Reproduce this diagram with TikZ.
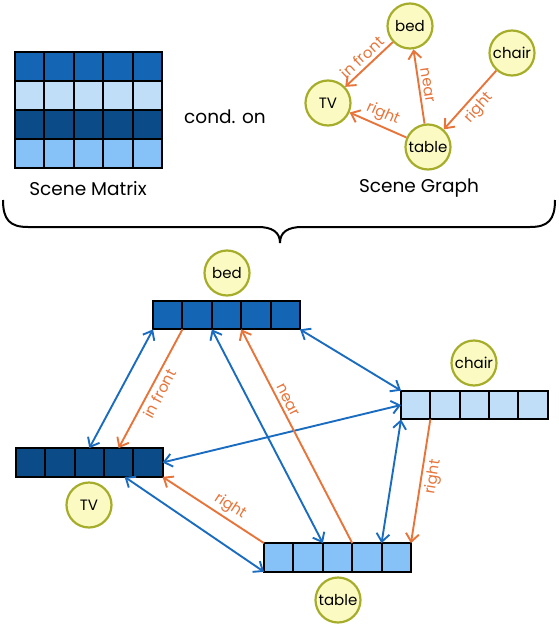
\documentclass[tikz,border=0pt]{standalone}
\usepackage{fontspec}
\setmainfont{Poppins}
\usetikzlibrary{arrows.meta}
\definecolor{midblue}{HTML}{1465B4}
\definecolor{paleblue}{HTML}{C0DEF8}
\definecolor{darkblue}{HTML}{0B4C88}
\definecolor{skyblue}{HTML}{86C2F8}
\definecolor{linkblue}{HTML}{1A6CC0}
\definecolor{relorange}{HTML}{E8743A}
\definecolor{objfill}{HTML}{FAFAC2}
\definecolor{objline}{HTML}{A6AD2B}
\begin{document}
\begin{tikzpicture}[x=1pt,y=-1pt,>={Straight Barb[length=8pt,width=13pt]},
	cell/.style={draw=black,line width=2pt,minimum width=29.3pt,minimum height=28.7pt,inner sep=0pt,outer sep=0pt},
	obj/.style={circle,draw=objline,fill=objfill,line width=2.2pt,minimum size=45pt,inner sep=0pt,font=\fontsize{15}{17}\selectfont},
	link/.style={linkblue,line width=1.9pt,<->},
	rel/.style={relorange,line width=1.9pt,->},
	rellabel/.style={sloped,font=\fontsize{15}{17}\selectfont,text=relorange,inner sep=3.5pt},
	caption/.style={font=\fontsize{18.5}{21}\selectfont}]
	\useasboundingbox (0,0) rectangle (558,626);
	\foreach \r/\c in {1/midblue,2/paleblue,3/darkblue,4/skyblue}
		\foreach \i in {1,...,5}
			\node[cell,fill=\c,minimum height=29pt] (m\r\i) at ({0.3+29.4*\i},{37.5+29*\r}) {};
	\node[caption] (matlabel) at (88,189) {Scene Matrix};
	\node[caption] (cond) at (225,117) {cond. on};
	\node[obj] (gbed) at (410,26) {bed};
	\node[obj] (gtv) at (328,103) {TV};
	\node[obj] (gtable) at (428,147) {table};
	\node[obj] (gchair) at (512,53) {chair};
	\node[caption] (graphlabel) at (419,188) {Scene Graph};
	\draw[rel] (gbed) -- node[rellabel,above] {in front} (gtv);
	\draw[rel] (gtable) -- node[rellabel,above] {near} (gbed);
	\draw[rel] (gchair) -- node[rellabel,below] {right} (gtable);
	\draw[rel] (gtable) -- node[rellabel,above] {right} (gtv);
	\draw[line width=2pt] (3,200) .. controls (3,220) and (10,227) .. (28,227) -- (258,227)
		.. controls (272,227) and (280,232) .. (280,243)
		.. controls (280,232) and (288,227) .. (302,227) -- (530,227)
		.. controls (548,227) and (555,220) .. (555,200);
	\foreach \i in {1,...,5} {
		\node[cell,fill=midblue] (bed\i) at ({138.3+29.4*\i},315) {};
		\node[cell,fill=paleblue] (chair\i) at ({386.4+29.3*\i},405) {};
		\node[cell,fill=darkblue] (tv\i) at ({1.4+29.3*\i},462.5) {};
		\node[cell,fill=skyblue] (table\i) at ({249.3+29.4*\i},557.5) {};
	}
	\node[obj] (bedobj) at (227,273) {bed};
	\node[obj] (chairobj) at (474,363) {chair};
	\node[obj] (tvobj) at (89,505) {TV};
	\node[obj] (tableobj) at (338,600) {table};
	\draw[link] (bed1.south west) -- (tv3.north);
	\draw[link] (bed3.south west) -- (table3.north west);
	\draw[link] (bed5.south east) -- (chair1.north west);
	\draw[link] (tv5.east) -- (chair1.west);
	\draw[link] ([xshift=6pt]tv4.south) -- (table1.south west);
	\draw[link] (chair1.south west) -- (table4.north east);
	\draw[rel] (bed2.south west) -- node[rellabel,below] {in front} (tv4.north);
	\draw[rel] (table4.north west) -- node[rellabel,above,pos=0.65] {near} (bed4.south west);
	\draw[rel] (table1.north west) -- node[rellabel,above,pos=0.4] {right} (tv5.south east);
	\draw[rel] (chair2.south west) -- node[rellabel,below,pos=0.45] {right} (table5.north east);
\end{tikzpicture}
\end{document}
